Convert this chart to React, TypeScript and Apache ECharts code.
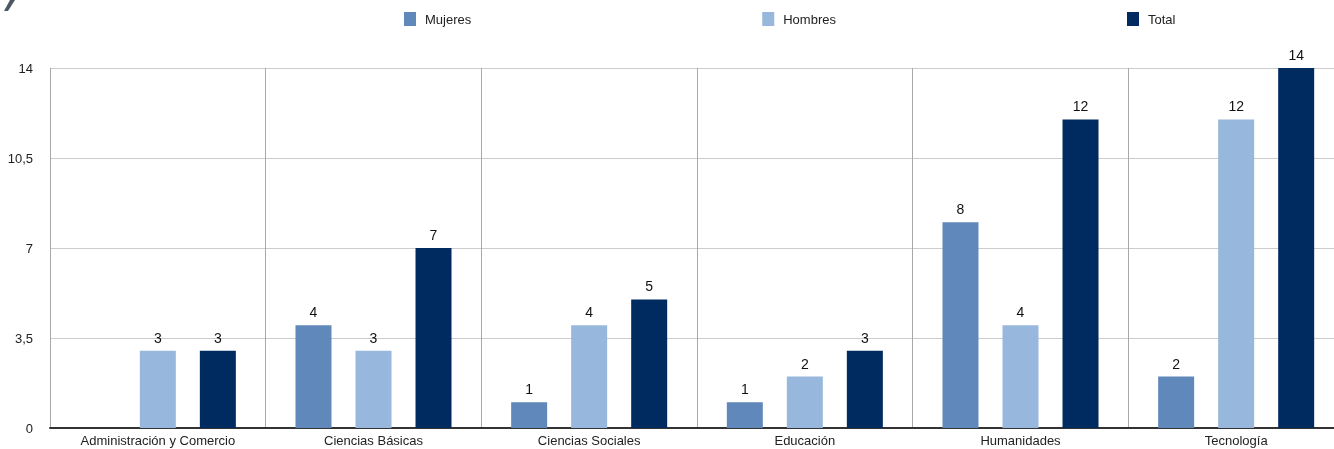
import React, { useEffect, useRef } from "react";
import * as echarts from "echarts";

const categories = [
  "Administración y Comercio",
  "Ciencias Básicas",
  "Ciencias Sociales",
  "Educación",
  "Humanidades",
  "Tecnología",
];
const mujeres = [0, 4, 1, 1, 8, 2];
const hombres = [3, 3, 4, 2, 4, 12];
const total = [3, 7, 5, 3, 12, 14];
const seriesNames = ["Mujeres", "Hombres", "Total"];
const colors = ["#6088ba", "#97b8dc", "#002b60"];

export default function App() {
  const ref = useRef<HTMLDivElement>(null);
  useEffect(() => {
    if (!ref.current) return;
    const chart = echarts.init(ref.current, null, { renderer: "svg" });
    const font = "'Liberation Sans', Arial, Helvetica, sans-serif";
    const data = [mujeres, hombres, total];
    chart.setOption({
      animation: false,
      textStyle: { fontFamily: font },
      legend: {
        left: 404,
        top: 12,
        padding: 0,
        itemWidth: 12,
        itemHeight: 14,
        itemGap: 291,
        icon: "rect",
        textStyle: { fontSize: 13, color: "#222", fontFamily: font, padding: [0, 0, 0, 4] },
        data: seriesNames,
      },
      grid: { left: 50, right: 0, top: 68, bottom: 21, containLabel: false },
      xAxis: {
        type: "category",
        data: categories,
        axisLine: { show: true, lineStyle: { color: "#333", width: 2 } },
        axisTick: { show: false },
        axisLabel: { color: "#222", fontSize: 13, margin: 6, fontFamily: font, interval: 0 },
        splitLine: { show: true, interval: 0, lineStyle: { color: "#a8a8a8", width: 1 } },
      },
      yAxis: {
        type: "value",
        min: 0,
        max: 14,
        interval: 3.5,
        axisLine: { show: false },
        axisTick: { show: false },
        axisLabel: {
          color: "#222",
          fontSize: 13,
          margin: 17,
          fontFamily: font,
          formatter: (v: number) => String(v).replace(".", ","),
        },
        splitLine: { show: true, lineStyle: { color: "#cccccc", width: 1 } },
      },
      series: seriesNames.map((name, i) => ({
        name,
        type: "bar",
        data: data[i],
        barWidth: 36,
        barGap: "66.7%",
        itemStyle: { color: colors[i] },
        label: {
          show: true,
          position: "top",
          distance: 6,
          color: "#111",
          fontSize: 14,
          fontFamily: font,
          formatter: (p: any) => (p.value === 0 ? "" : String(p.value)),
        },
      })),
      graphic: [
        {
          type: "polygon",
          shape: { points: [[10, 0], [15, 0], [8, 11], [4, 11]] },
          style: { fill: "#4d5863" },
        },
      ],
    });
    return () => chart.dispose();
  }, []);
  return (
    <div
      ref={ref}
      style={{ position: "fixed", left: 0, top: 0, width: 1344, height: 449 }}
    />
  );
}
